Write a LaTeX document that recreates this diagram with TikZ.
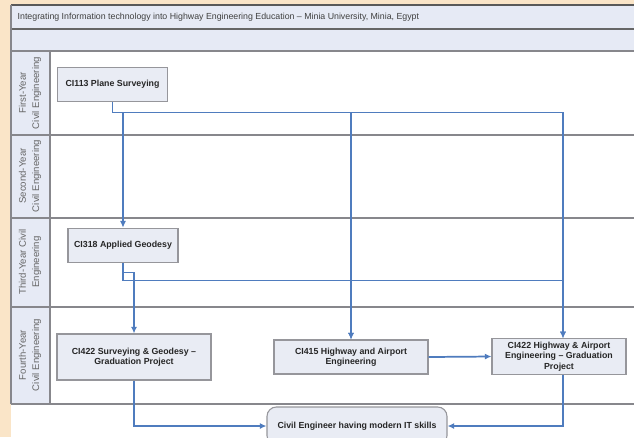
\documentclass[tikz,border=0pt]{standalone}
\usepackage{fontspec}
\setmainfont{Liberation Sans}
\usepackage{tikz}
\usetikzlibrary{arrows.meta}
\definecolor{peach}{RGB}{250,229,200}
\definecolor{band}{RGB}{230,234,245}
\definecolor{boxfill}{RGB}{233,236,244}
\definecolor{boxline}{RGB}{150,150,155}
\definecolor{flowblue}{RGB}{79,124,190}
\definecolor{rulegray}{RGB}{135,135,140}

\begin{document}
\begin{tikzpicture}[x=0.75pt, y=-0.75pt,
	course/.style={draw=boxline, fill=boxfill, line width=0.8pt, align=center, inner sep=0.5pt,
		font=\fontsize{6.6}{7.8}\selectfont\bfseries, text=black!85},
	lanelabel/.style={rotate=90, align=center, font=\fontsize{7.2}{10}\selectfont, text=black!60},
	flow/.style={draw=flowblue, line width=1.3pt, -{Latex[length=5pt,width=4.6pt]}}]
				\useasboundingbox (0,0) rectangle (634,437);
				\fill[peach] (0,0) rectangle (634,437);
				\fill[white] (11,5) rectangle (634,437);
				\fill[band] (11,5) rectangle (634,28);
				\fill[band] (11,29) rectangle (634,51);
				\fill[band] (11,51) rectangle (50,404);
				\draw[black!65, line width=1.2pt] (11,5) -- (634,5);
				\draw[black!60, line width=1.5pt] (11,28.5) -- (634,28.5);
				\draw[rulegray, line width=1.3pt] (11,51) -- (634,51);
				\draw[rulegray, line width=1.2pt] (11,135) -- (634,135);
				\draw[rulegray, line width=1.2pt] (11,218) -- (634,218);
				\draw[rulegray, line width=1.2pt] (11,307) -- (634,307);
				\draw[rulegray, line width=1.2pt] (11,404) -- (634,404);
				\draw[rulegray, line width=1pt] (11,5) -- (11,404);
				\draw[rulegray, line width=1pt] (50,51) -- (50,404);
				\node[anchor=west, font=\fontsize{6.6}{8}\selectfont, text=black!75] (title) at (13,17)
					{Integrating Information technology into Highway Engineering Education -- Minia University, Minia, Egypt};
				\node[lanelabel] (lane1) at (30,93) {First-Year\\Civil Engineering};
				\node[lanelabel] (lane2) at (30,176) {Second-Year\\Civil Engineering};
				\node[lanelabel] (lane3) at (30,262) {Third-Year Civil\\Engineering};
				\node[lanelabel] (lane4) at (30,355) {Fourth-Year\\Civil Engineering};
				\node[course, minimum width=83pt, minimum height=26pt] (ci113) at (112.5,84.5) {CI113 Plane Surveying};
				\node[course, minimum width=82.5pt, minimum height=26pt] (ci318) at (123,245.5) {CI318 Applied Geodesy};
				\node[course, minimum width=115.5pt, minimum height=34.5pt] (ci422sg) at (134,357) {CI422 Surveying \& Geodesy --\\Graduation Project};
				\node[course, minimum width=115.5pt, minimum height=25.5pt] (ci415) at (351,357) {CI415 Highway and Airport\\Engineering};
				\node[course, minimum width=100.5pt, minimum height=26.5pt] (ci422ha) at (559,356.5) {CI422 Highway \& Airport\\Engineering -- Graduation\\Project};
				\node[course, rounded corners=7pt, minimum width=135pt, minimum height=28.5pt] (goal) at (357,426) {Civil Engineer having modern IT skills};
				\draw[flow] (ci113.south) -- ++(0,10) -| (ci318.north);
				\draw[flow] (ci113.south) -- ++(0,10) -| (ci415.north);
				\draw[flow] (ci113.south) -- ++(0,10) -| ([xshift=3pt]ci422ha.north);
				\draw[flow] (ci318.south) -- ++(0,9) -| (ci422sg.north);
				\draw[flow] (ci318.south) -- ++(0,17) -| (ci415.north);
				\draw[flow] (ci318.south) -- ++(0,17) -| ([xshift=3pt]ci422ha.north);
				\draw[flow] (ci415.east) -- (ci422ha.west);
				\draw[flow] (ci422sg.south) |- (goal.west);
				\draw[flow] ([xshift=3pt]ci422ha.south) |- (goal.east);
			\end{tikzpicture}
\end{document}
